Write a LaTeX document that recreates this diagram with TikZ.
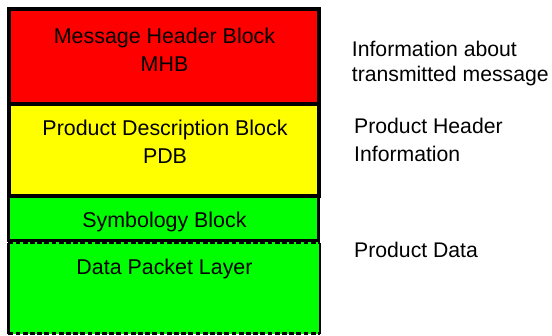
\documentclass[tikz,border=0pt]{standalone}
\usepackage{fontspec}
\setmainfont{Liberation Sans}
\definecolor{mhbred}{RGB}{255,0,0}
\definecolor{pdbyellow}{RGB}{255,255,0}
\definecolor{symgreen}{RGB}{0,255,0}
\begin{document}
\begin{tikzpicture}[x=1pt,y=-1pt,
  lbl/.style={anchor=base,inner sep=0pt,font=\fontsize{21.4}{26}\selectfont},
  side/.style={anchor=base west,inner sep=0pt,font=\fontsize{21.2}{26}\selectfont},
  frame/.style={line width=4.2pt,line cap=rect},
  dashline/.style={line width=2.6pt,dash pattern=on 4.8pt off 2.4pt}]
\useasboundingbox (0,0) rectangle (552,335);
% fills
\fill[mhbred] (9.2,9.2) rectangle (318.7,104);
\fill[pdbyellow] (9.2,104) rectangle (318.7,195.5);
\fill[symgreen] (9,195.5) rectangle (319.5,333.5);
% named corner coordinates
\coordinate (tl) at (9.2,9.2);
\coordinate (tr) at (318.7,9.2);
\coordinate (ml1) at (9.2,104);
\coordinate (mr1) at (318.7,104);
\coordinate (ml2) at (9.2,195.6);
\coordinate (mr2) at (318.7,195.6);
\coordinate (sl) at (8.7,240.6);
\coordinate (sr) at (318,240.6);
\coordinate (dtl) at (8.3,243);
\coordinate (dtr) at (319.8,243);
\coordinate (dbl) at (8.3,333.6);
\coordinate (dbr) at (319.8,333.6);
% data packet layer
\draw[line width=2.4pt] (dtl) -- (dbl);
\draw[line width=2.4pt] (dtr) -- (dbr);
\draw[dashline] (dtl) -- (dtr);
\draw[dashline] (dbl) -- (dbr);
% symbology block border
\draw[line width=3pt] (ml2) -- (8.7,195.6) -- (sl) -- (sr) -- (318,195.6);
\draw[line width=2pt] (sl) -- (sr);
% MHB / PDB frame
\draw[frame] (ml2) -- (tl) -- (tr) -- (mr2);
\draw[frame] (ml1) -- (mr1);
\draw[frame,line cap=butt] (ml2) -- (mr2);
% block texts
\node[lbl] (mhb1) at (164.5,43.4) {Message Header Block};
\node[lbl] (mhb2) at (164.5,71.7) {MHB};
\node[lbl] (pdb1) at (165,135.7) {Product Description Block};
\node[lbl] (pdb2) at (165,163.3) {PDB};
\node[lbl] (sym) at (164.5,227.7) {Symbology Block};
\node[lbl] (dpl) at (164.5,274.3) {Data Packet Layer};
% side texts
\node[side] (i1) at (351.7,56) {Information about};
\node[side] (i2) at (351.7,81.7) {transmitted message};
\node[side] (p1) at (354,133.3) {Product Header};
\node[side] (p2) at (354,161.7) {Information};
\node[side] (pd) at (354,257.3) {Product Data};
\end{tikzpicture}
\end{document}
